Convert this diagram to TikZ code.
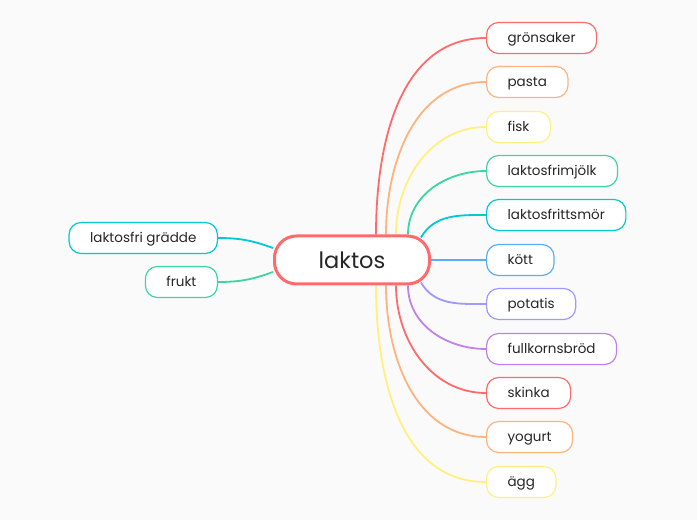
\documentclass[tikz,border=0pt]{standalone}
\usepackage{fontspec}
\setmainfont{Poppins}
\usetikzlibrary{backgrounds}
\definecolor{mmbg}{HTML}{FAFAFA}
\definecolor{mmtext}{HTML}{262626}
\definecolor{mmred}{HTML}{FF6B6B}
\definecolor{mmorange}{HTML}{FFB37F}
\definecolor{mmyellow}{HTML}{FFF07F}
\definecolor{mmgreen}{HTML}{3DD6A3}
\definecolor{mmcyan}{HTML}{00C9D2}
\definecolor{mmblue}{HTML}{5AAEF5}
\definecolor{mmviolet}{HTML}{9D99FF}
\definecolor{mmpurple}{HTML}{C082E8}
\begin{document}
\begin{tikzpicture}[x=1pt,y=1pt,
  leaf/.style={draw, fill=white, line width=1.2pt, rounded corners=12pt, minimum height=31pt,
    inner xsep=21pt, text height=12pt, text depth=2pt, text=mmtext, font=\fontsize{13.5}{15}\selectfont},
  twig/.style={line width=1.8pt}]
  \useasboundingbox (0,0) rectangle (697,520);
  \begin{scope}[on background layer]
    \fill[mmbg] (0,0) rectangle (697,520);
  \end{scope}
  % hub
  \node[draw=mmred, fill=white, line width=3pt, rounded corners=22pt, minimum width=155pt,
    minimum height=48pt, text=mmtext, font=\fontsize{22.5}{26}\selectfont] (laktos) at (352,260) {laktos};
  % right branches above the hub
  \foreach \i/\t/\c/\y/\s in {1/grönsaker/mmred/482/24, 2/pasta/mmorange/438/34,
      3/fisk/mmyellow/393/44, 4/laktosfrimjölk/mmgreen/349/56}{
    \node[leaf, draw=\c, anchor=west] (r\i) at (486,\y) {\t};
    \begin{scope}[on background layer]
      \draw[twig, \c] ([xshift=\s pt]laktos.north) to[out=90, in=180] (r\i.west);
    \end{scope}
  }
  \node[leaf, draw=mmcyan, anchor=west] (r5) at (486,305) {laktosfrittsmör};
  \node[leaf, draw=mmblue, anchor=west] (r6) at (486,260) {kött};
  % right branches below the hub
  \node[leaf, draw=mmviolet, anchor=west] (r7) at (486,216) {potatis};
  \foreach \i/\t/\c/\y/\s in {8/fullkornsbröd/mmpurple/171/56, 9/skinka/mmred/127/44,
      10/yogurt/mmorange/83/34, 11/ägg/mmyellow/38/24}{
    \node[leaf, draw=\c, anchor=west] (r\i) at (486,\y) {\t};
    \begin{scope}[on background layer]
      \draw[twig, \c] ([xshift=\s pt]laktos.south) to[out=-90, in=180] (r\i.west);
    \end{scope}
  }
  % left branches
  \node[leaf, draw=mmcyan, anchor=east] (l1) at (218,282) {laktosfri grädde};
  \node[leaf, draw=mmgreen, anchor=east] (l2) at (218,238) {frukt};
  \begin{scope}[on background layer]
    \draw[twig, mmcyan] ([xshift=-10pt, yshift=-3pt]laktos.north east) to[out=60, in=180] (r5.west);
    \draw[twig, mmblue] (laktos.east) -- (r6.west);
    \draw[twig, mmviolet] ([xshift=-10pt, yshift=3pt]laktos.south east) to[out=-60, in=180] (r7.west);
    \draw[twig, mmcyan] ([yshift=12pt]laktos.west) to[out=160, in=0] (l1.east);
    \draw[twig, mmgreen] ([yshift=-12pt]laktos.west) to[out=200, in=0] (l2.east);
  \end{scope}
\end{tikzpicture}
\end{document}
